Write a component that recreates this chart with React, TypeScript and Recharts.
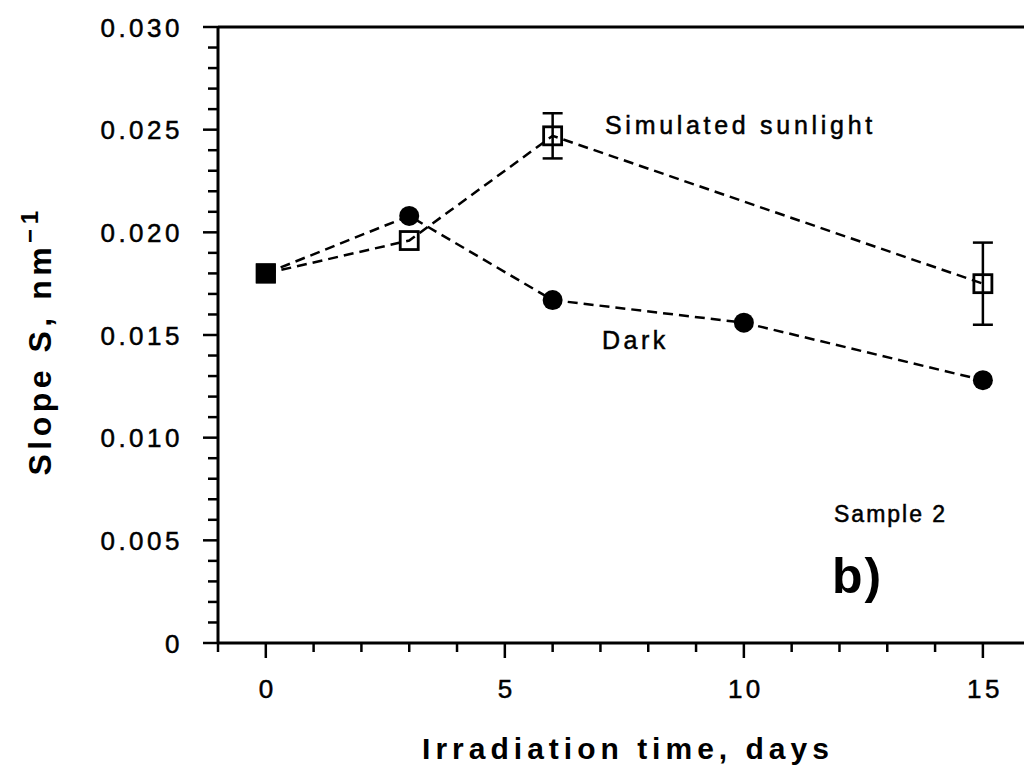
import { LineChart, Line, XAxis, YAxis, ErrorBar, ReferenceLine, Customized } from 'recharts';

// (Sample 2, panel b)
const darkDays = [0, 3, 6, 10, 15];
const darkSlope = [0.018, 0.0208, 0.0167, 0.0156, 0.0128];
const sunDays = [0, 3, 6, 15];
const sunSlope = [0.018, 0.0196, 0.0247, 0.0175];
const sunError = [null, null, 0.0011, 0.002];
const xMajorTicks = [0, 5, 10, 15];
const yMajorTicks = [0, 0.005, 0.01, 0.015, 0.02, 0.025, 0.03];

const darkData = darkDays.map((day, i) => ({ day, slope: darkSlope[i] }));
const sunData = sunDays.map((day, i) => ({ day, slope: sunSlope[i], err: sunError[i] }));

const xTicks = Array.from({ length: 17 }, (_, i) => i - 1);
const yTicks = Array.from({ length: 31 }, (_, i) => i / 1000);

const FONT = '"Liberation Sans", Arial, sans-serif';
const INK = '#000';

function XTick(props: any) {
  const { x, y, payload } = props;
  const major = xMajorTicks.includes(payload.value);
  return (
    <g>
      <line x1={x} x2={x} y1={y} y2={y + (major ? 15 : 9)} stroke={INK} strokeWidth={2.5} />
      {major && (
        <text x={x + 2} y={y + 55} textAnchor="middle" fontFamily={FONT} fontSize={26} letterSpacing={3.5} fill={INK} stroke={INK} strokeWidth={0.5}>
          {payload.value}
        </text>
      )}
    </g>
  );
}

function YTick(props: any) {
  const { x, y, payload } = props;
  const major = yMajorTicks.some((t) => Math.abs(t - payload.value) < 1e-9);
  return (
    <g>
      <line x1={x - (major ? 15 : 10)} x2={x} y1={y} y2={y} stroke={INK} strokeWidth={2.5} />
      {major && (
        <text x={x - 35} y={y + 9.5} textAnchor="end" fontFamily={FONT} fontSize={26} letterSpacing={3.5} fill={INK} stroke={INK} strokeWidth={0.5}>
          {payload.value === 0 ? '0' : payload.value.toFixed(3)}
        </text>
      )}
    </g>
  );
}

function StartSquare({ cx, cy }: { cx: number; cy: number }) {
  return <rect x={cx - 10} y={cy - 10} width={20} height={20} fill={INK} />;
}

function DarkDot(props: any) {
  const { cx, cy, payload, index } = props;
  if (payload.day === 0) return <StartSquare key={index} cx={cx} cy={cy} />;
  return <circle key={index} cx={cx} cy={cy} r={10} fill={INK} />;
}

function SunDot(props: any) {
  const { cx, cy, payload, index } = props;
  if (payload.day === 0) return <StartSquare key={index} cx={cx} cy={cy} />;
  return <rect key={index} x={cx - 9} y={cy - 9} width={18} height={18} fill="none" stroke={INK} strokeWidth={2.8} />;
}

function Annotations() {
  return (
    <g fontFamily={FONT} fill={INK}>
      <text transform="translate(51,341) rotate(-90)" textAnchor="middle" fontSize={32} fontWeight="bold" letterSpacing={4.5}>
        Slope S, nm
        <tspan dy={-13} fontSize={24}>−1</tspan>
      </text>
      <text x={628} y={759} textAnchor="middle" fontSize={30} fontWeight="bold" letterSpacing={5}>
        Irradiation time, days
      </text>
      <g stroke={INK} strokeWidth={0.5}>
        <text x={605} y={134} fontSize={25} letterSpacing={3.7}>Simulated sunlight</text>
        <text x={602} y={349} fontSize={25} letterSpacing={3.5}>Dark</text>
        <text x={834} y={522} fontSize={23} letterSpacing={2}>Sample 2</text>
      </g>
      <text x={832} y={593} fontSize={50} fontWeight="bold" letterSpacing={2}>b)</text>
    </g>
  );
}

export default function App() {
  return (
    <div style={{ position: 'absolute', left: 0, top: 0, width: 1024, height: 776, overflow: 'hidden', background: '#fff' }}>
      <LineChart width={1024} height={776} margin={{ top: 27, right: 0, bottom: 0, left: 0 }}>
        <XAxis
          type="number"
          dataKey="day"
          domain={[-1, 15.86]}
          allowDataOverflow
          ticks={xTicks}
          interval={0}
          height={133}
          tickSize={0}
          tickMargin={0}
          tick={<XTick />}
          axisLine={{ stroke: INK, strokeWidth: 3 }}
          tickLine={false}
        />
        <YAxis
          type="number"
          dataKey="slope"
          domain={[0, 0.03]}
          allowDataOverflow
          ticks={yTicks}
          interval={0}
          width={218}
          tickSize={0}
          tickMargin={0}
          tick={<YTick />}
          axisLine={{ stroke: INK, strokeWidth: 3 }}
          tickLine={false}
        />
        <ReferenceLine y={0.03} stroke={INK} strokeWidth={3} />
        <Line
          data={darkData}
          dataKey="slope"
          stroke={INK}
          strokeWidth={2.5}
          strokeDasharray="10 6"
          dot={<DarkDot />}
          isAnimationActive={false}
        />
        <Line
          data={sunData}
          dataKey="slope"
          stroke={INK}
          strokeWidth={2.5}
          strokeDasharray="10 6"
          dot={<SunDot />}
          isAnimationActive={false}
        >
          <ErrorBar dataKey="err" direction="y" width={10} stroke={INK} strokeWidth={2.5} />
        </Line>
        <Customized component={Annotations} />
      </LineChart>
    </div>
  );
}
